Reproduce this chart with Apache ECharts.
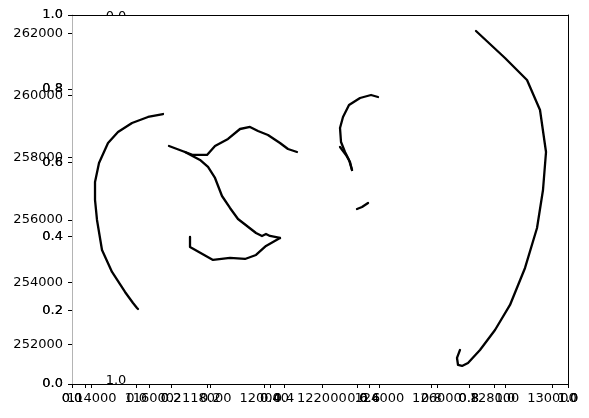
<!DOCTYPE html>
<html>
<head>
<meta charset="utf-8">
<script src="https://cdn.jsdelivr.net/npm/echarts@6/dist/echarts.min.js"></script>
<style>html,body{margin:0;padding:0;background:#fff}#c{width:589px;height:418px}</style>
</head>
<body>
<div id="c"></div>
<script>
// ---- data (map coordinates) ----
const arcX = [116478, 115957, 115401, 114914, 114567, 114254, 114115, 114115, 114184, 114358, 114706, 115158, 115436, 115575, 115609, 115540];
const arcY = [259405, 259309, 259116, 258827, 258473, 257831, 257220, 256641, 255998, 255034, 254327, 253684, 253330, 253170, 253137, 253202];

const upperX = [116687, 117243, 117523, 118008, 118286, 118738, 119155, 119502, 119780, 120127, 120545, 120823, 121136];
const upperY = [258377, 258184, 258088, 258088, 258377, 258602, 258923, 258988, 258859, 258730, 258473, 258280, 258184];

const lowerX = [117243, 117765, 118043, 118286, 118529, 118807, 119085, 119398, 119711, 119919, 120058, 120197, 120545];
const lowerY = [258184, 257927, 257702, 257348, 256769, 256384, 256030, 255805, 255580, 255484, 255548, 255484, 255420];

const loopX = [117417, 117417, 118217, 118807, 119329, 119711, 120058, 120545];
const loopY = [255452, 255131, 254713, 254777, 254745, 254873, 255163, 255420];

const hookX = [123952, 123709, 123327, 122944, 122735, 122631, 122666, 122805, 122944, 123048];
const hookY = [259952, 260016, 259920, 259695, 259309, 258955, 258505, 258184, 257927, 257606];

const hook2X = [122631, 122840, 122979, 123048];
const hook2Y = [258344, 258088, 257863, 257606];

const bitX = [123222, 123396, 123605];
const bitY = [256352, 256416, 256544];

const bigX = [127358, 128366, 129131, 129583, 129792, 129687, 129479, 129062, 128540, 128019, 127497, 127080, 126872, 126733, 126698, 126802];
const bigY = [262074, 261206, 260499, 259534, 258184, 256962, 255741, 254456, 253266, 252462, 251819, 251401, 251305, 251337, 251562, 251819];

const mapXRange = [113315, 130556];
const mapYRange = [250725, 262588];
const mapStep = 2000;

// ---- chart ----
const FONT = 'DejaVu Sans';
const lab = {color: '#000', fontFamily: FONT, fontSize: 13};
const tick = {show: true, length: 4, lineStyle: {color: '#000', width: 1}};
function pairs(xs, ys) { return xs.map((x, i) => [x, ys[i]]); }
const unitFmt = v => (Math.abs(v * 5 - Math.round(v * 5)) < 1e-6 ? Number(v).toFixed(1) : '');
const mapFmt = v => (v % mapStep === 0 ? String(v) : '');

function unitX(grid, opts) {
  return Object.assign({
    type: 'value', gridIndex: grid, min: 0, max: 1, interval: 0.2, position: 'bottom', z: 5,
    splitLine: {show: false},
    axisLine: {show: true, onZero: false, lineStyle: {color: '#000', width: 1}},
    axisTick: tick,
    axisLabel: Object.assign({margin: 8, formatter: unitFmt}, lab)
  }, opts || {});
}

const chart = echarts.init(document.getElementById('c'), null, {renderer: 'canvas'});
const lineSeries = (name, xs, ys) => ({
  name, type: 'line', xAxisIndex: 1, yAxisIndex: 1, data: pairs(xs, ys),
  showSymbol: false, symbol: 'none', z: 10, silent: true,
  lineStyle: {color: '#000', width: 2.3, join: 'round', cap: 'round'}
});

chart.setOption({
  animation: false,
  backgroundColor: '#fff',
  grid: [
    {left: 72, right: 21, top: 15, bottom: 34, containLabel: false},
    {left: 136.7, right: 84, top: 15, bottom: 34, containLabel: false},
    {left: 85, right: 21, top: 15, bottom: 34, containLabel: false}
  ],
  xAxis: [
    unitX(0),
    {
      type: 'value', gridIndex: 0, min: mapXRange[0], max: mapXRange[1], splitNumber: 8, position: 'bottom', z: 5,
      splitLine: {show: false}, axisLine: {show: false, onZero: false}, axisTick: tick,
      axisLabel: Object.assign({margin: 8, formatter: mapFmt, showMinLabel: false, showMaxLabel: false}, lab)
    },
    unitX(0),
    unitX(0, {position: 'top', axisTick: {show: false}, axisLabel: {show: false}}),
    unitX(1, {axisLine: {show: false, onZero: false}}),
    {
      type: 'value', gridIndex: 2, min: 0, max: 1, position: 'bottom', z: 5,
      splitLine: {show: false}, axisLine: {show: false, onZero: false},
      axisTick: {show: true, length: 4, lineStyle: {color: '#000', width: 1}, interval: 0},
      axisLabel: {show: false}, splitNumber: 1
    }
  ],
  yAxis: [
    {
      type: 'value', gridIndex: 0, min: 0, max: 1, interval: 0.2, position: 'left', z: 5,
      splitLine: {show: false},
      axisLine: {show: true, onZero: false, lineStyle: {color: '#b4b4b4', width: 1}},
      axisTick: tick, axisLabel: Object.assign({margin: 9, formatter: unitFmt}, lab)
    },
    {
      type: 'value', gridIndex: 0, min: mapYRange[0], max: mapYRange[1], splitNumber: 6, position: 'left', z: 5,
      splitLine: {show: false}, axisLine: {show: false, onZero: false}, axisTick: tick,
      axisLabel: Object.assign({margin: 9, formatter: mapFmt, showMinLabel: false, showMaxLabel: false}, lab)
    },
    {
      type: 'value', gridIndex: 0, min: 0, max: 1, interval: 0.2, position: 'left', z: 5,
      splitLine: {show: false}, axisLine: {show: false, onZero: false}, axisTick: {show: false},
      axisLabel: Object.assign({margin: 9, formatter: unitFmt}, lab)
    },
    {
      type: 'value', gridIndex: 0, min: 0, max: 1, position: 'right', z: 5,
      splitLine: {show: false}, axisTick: {show: false}, axisLabel: {show: false},
      axisLine: {show: true, onZero: false, lineStyle: {color: '#000', width: 1}}
    },
    {type: 'value', gridIndex: 1, min: 0, max: 1, show: false},
    {type: 'value', gridIndex: 2, min: 0, max: 1, show: false}
  ],
  graphic: [
    {type: 'text', z: 0, zlevel: 0, style: {text: '0.0', x: 116, y: 10, fill: '#000', font: '13px "DejaVu Sans"', align: 'center', verticalAlign: 'top'}},
    {type: 'rect', z: 1, zlevel: 0, shape: {x: 72.5, y: 15.5, width: 495, height: 368}, style: {fill: '#fff'}},
    {type: 'text', z: 6, zlevel: 0, style: {text: '1.0', x: 116, y: 387, fill: '#000', font: '13px "DejaVu Sans"', align: 'center', verticalAlign: 'bottom'}}
  ],
  series: [
    lineSeries('arc', arcX, arcY),
    lineSeries('upper', upperX, upperY),
    lineSeries('lower', lowerX, lowerY),
    lineSeries('loop', loopX, loopY),
    lineSeries('hook', hookX, hookY),
    lineSeries('hook2', hook2X, hook2Y),
    lineSeries('bit', bitX, bitY),
    lineSeries('big', bigX, bigY)
  ]
});
</script>
</body>
</html>
